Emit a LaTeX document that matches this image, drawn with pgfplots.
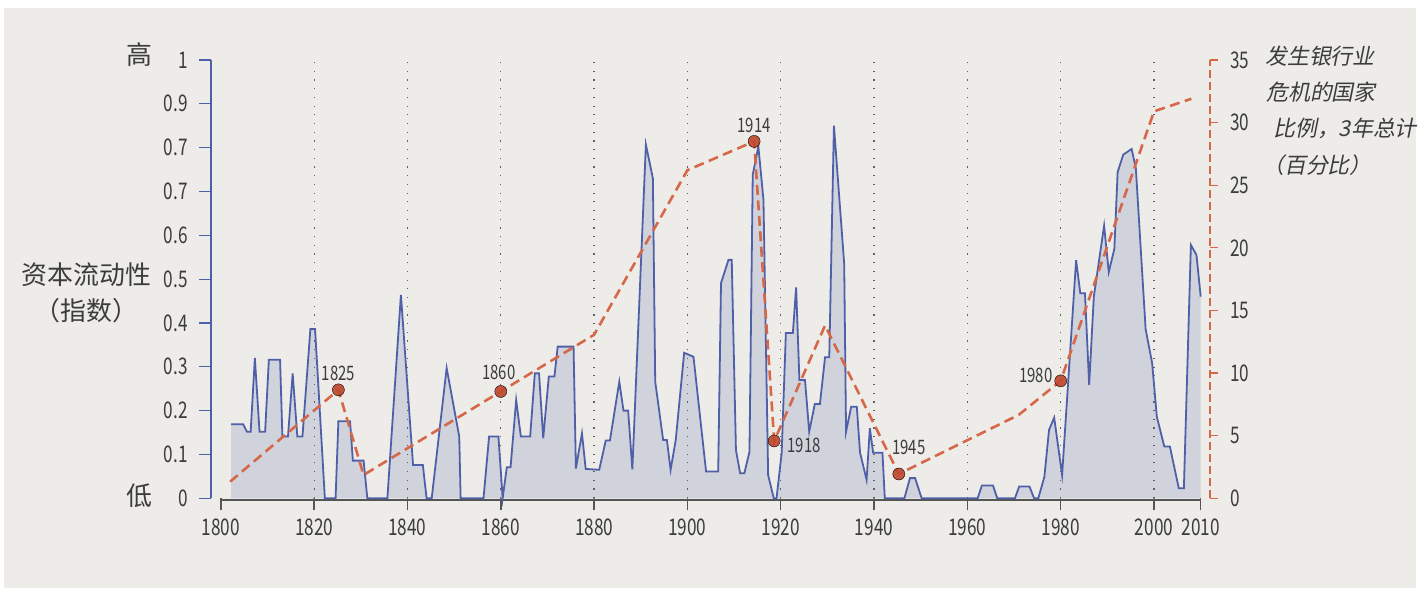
\documentclass[border=0pt]{standalone}
\usepackage{pgfplots}
\pgfplotsset{compat=1.18}
\usepackage{fontspec}
\setmainfont{Noto Sans CJK SC}
\newfontfamily\numfont{Noto Sans CJK SC}[FakeStretch=0.75]
\newfontfamily\cjkit{Noto Sans CJK SC}[FakeSlant=0.2]
\definecolor{panelbg}{HTML}{EDECE8}
\definecolor{liqfill}{HTML}{D0D3DB}
\definecolor{liq}{HTML}{5060A8}
\definecolor{crisis}{HTML}{D6684A}
\definecolor{mk}{HTML}{C04830}
\definecolor{txt}{HTML}{3C3C3C}
\definecolor{axgray}{HTML}{555555}
\definecolor{gridc}{HTML}{606060}

\pgfplotstableread{
year val
1802.2 0.169
1804.8 0.169
1805.6 0.152
1806.4 0.152
1807.3 0.320
1808.3 0.152
1809.5 0.152
1810.3 0.316
1812.7 0.316
1813.2 0.141
1814.4 0.141
1815.4 0.285
1816.4 0.141
1817.5 0.141
1819.2 0.386
1820.2 0.386
1822.3 0
1824.6 0
1825.2 0.176
1827.7 0.176
1828.3 0.086
1830.6 0.086
1831.4 0
1835.7 0
1838.6 0.464
1841.2 0.076
1843.3 0.076
1844.1 0
1845.2 0
1848.4 0.297
1851.1 0.141
1851.4 0
1856.3 0
1857.5 0.141
1859.5 0.141
1860.4 0
1861.3 0.071
1862.1 0.071
1863.3 0.224
1864.3 0.141
1866.3 0.141
1867.3 0.285
1868.2 0.285
1869.1 0.137
1870.3 0.278
1871.5 0.278
1872.2 0.346
1875.6 0.346
1876.1 0.068
1877.4 0.148
1878.2 0.067
1881.1 0.065
1882.5 0.132
1883.4 0.132
1885.4 0.266
1886.3 0.200
1887.3 0.200
1888.2 0.066
1891.1 0.807
1892.6 0.730
1893.1 0.266
1894.8 0.133
1895.6 0.133
1896.4 0.065
1897.5 0.133
1899.3 0.332
1901.3 0.323
1904.0 0.061
1906.6 0.061
1907.2 0.491
1908.8 0.544
1909.5 0.544
1910.4 0.110
1911.3 0.057
1912.2 0.057
1913.3 0.106
1914.0 0.738
1915.2 0.803
1916.3 0.681
1917.3 0.053
1918.5 0
1919.1 0
1920.2 0.103
1921.1 0.377
1922.6 0.377
1923.3 0.481
1924.0 0.270
1925.2 0.270
1926.1 0.152
1927.3 0.215
1928.4 0.215
1929.5 0.322
1930.4 0.322
1931.4 0.850
1933.6 0.535
1934.0 0.152
1935.1 0.209
1936.3 0.209
1937.0 0.104
1938.4 0.042
1939.1 0.160
1939.8 0.104
1941.8 0.104
1942.3 0
1946.5 0
1947.7 0.046
1948.8 0.046
1950.2 0
1962.2 0
1963.1 0.029
1965.5 0.029
1966.4 0
1970.2 0
1971.1 0.027
1973.3 0.027
1974.3 0
1975.2 0
1976.5 0.049
1977.5 0.156
1978.6 0.184
1980.3 0.053
1983.3 0.543
1984.2 0.468
1985.2 0.468
1986.1 0.259
1987.1 0.460
1989.3 0.622
1990.3 0.516
1991.5 0.569
1992.2 0.744
1993.4 0.784
1995.2 0.797
1996.1 0.753
1998.2 0.386
1999.6 0.308
2000.6 0.186
2002.2 0.118
2003.4 0.118
2005.3 0.023
2006.4 0.023
2007.9 0.578
2009.1 0.555
2010.0 0.460
}\liqtable

\pgfplotstableread{
year pct
1802.0 1.33
1825.2 8.66
1830.6 1.86
1860.0 8.53
1880.0 13.06
1900.0 26.2
1914.3 28.5
1918.6 4.58
1929.5 13.8
1945.3 1.94
1971.0 6.66
1980.0 9.38
2000.0 30.9
2008.0 31.9
}\crisistable

\pgfplotstableread{
year pct
1825.2 8.66
1860.0 8.53
1914.3 28.5
1918.6 4.58
1945.3 1.94
1980.0 9.38
}\marktable

\begin{document}
\begin{tikzpicture}[x=1bp,y=1bp]
\fill[white] (0,0) rectangle (1419,590);
\fill[panelbg] (4,2) rectangle (1416,582);

% left labels
\node[font={\fontsize{26}{26}\selectfont}, text=txt] at (86.7,315) {资本流动性};
\node[font={\fontsize{26}{26}\selectfont}, text=txt] at (86.7,279.5) {（指数）};
\node[font={\fontsize{26}{26}\selectfont}, text=txt] at (139.5,535) {高};
\node[font={\fontsize{26}{26}\selectfont}, text=txt] at (139.5,94.5) {低};

% right title
\node[anchor=west, inner sep=0pt, font={\cjkit\fontsize{22}{22}\selectfont}, text=txt] at (1265,534) {发生银行业};
\node[anchor=west, inner sep=0pt, font={\cjkit\fontsize{22}{22}\selectfont}, text=txt] at (1266,498.3) {危机的国家};
\node[anchor=west, inner sep=0pt, font={\cjkit\fontsize{22}{22}\selectfont}, text=txt] at (1273,462) {比例，3年总计};
\node[anchor=west, inner sep=0pt, font={\cjkit\fontsize{22}{22}\selectfont}, text=txt] at (1262,425) {（百分比）};

\begin{axis}[
  at={(211bp,91.7bp)}, anchor=south west, scale only axis,
  width=999bp, height=438.3bp,
  xmin=1797.9, xmax=2012, ymin=0, ymax=1,
  axis x line*=bottom, axis y line*=left,
  x axis line style={draw=none},
  y axis line style={draw=liq, line width=1.5bp, -},
  tick align=outside,
  major tick length=12bp,
  xtick={1800,1820,1840,1860,1880,1900,1920,1940,1960,1980,2000,2010},
  xticklabels={1800,1820,1840,1860,1880,1900,1920,1940,1960,1980,2000,2010},
  ytick={0,0.1,0.2,0.3,0.4,0.5,0.6,0.7,0.8,0.9,1},
  yticklabels={0,0.1,0.2,0.3,0.4,0.5,0.6,0.7,0.7,0.9,1},
  xtick style={draw=axgray, line width=1.5bp},
  ytick style={draw=liq, line width=1.2bp},
  /pgf/number format/assume math mode=true,
  xticklabel style={font={\numfont\fontsize{23}{23}\selectfont}, text=txt, inner sep=0pt, anchor=north, yshift=-8bp},
  yticklabel style={font={\numfont\fontsize{23}{23}\selectfont}, text=txt, inner sep=0pt, anchor=east, xshift=-11bp},
  clip=false,
]
\addplot[draw=none, fill=liqfill] table[x=year, y=val] {\liqtable} \closedcycle;
\pgfplotsinvokeforeach{1820,1840,1860,1880,1900,1920,1940,1960,1980,2000}{
  \draw[gridc, line width=1.2bp, dash pattern=on 1.2bp off 7.5bp] (axis cs:#1,0) -- (axis cs:#1,0.995);
}
\draw[axgray, line width=2.2bp] ([yshift=-1.6bp]axis cs:1800,0) -- ([yshift=-1.6bp]axis cs:2010,0);
\addplot[liq, line width=1.8bp, mark=none] table[x=year, y=val] {\liqtable};
\end{axis}

\begin{axis}[
  at={(211bp,91.7bp)}, anchor=south west, scale only axis,
  width=999bp, height=438.3bp,
  xmin=1797.9, xmax=2012, ymin=0, ymax=35,
  axis y line*=right, axis x line=none,
  y axis line style={draw=crisis, line width=1.3bp, dash pattern=on 8bp off 4bp, -},
  tick align=outside,
  major tick length=8bp,
  ytick={0,5,10,15,20,25,30,35},
  yticklabels={0,5,10,15,20,25,30,35},
  ytick style={draw=crisis, line width=1.3bp, solid},
  /pgf/number format/assume math mode=true,
  yticklabel style={font={\numfont\fontsize{23}{23}\selectfont}, text=txt, inner sep=0pt, anchor=west, xshift=12bp},
  clip=false,
]
\addplot[crisis, line width=2.6bp, dash pattern=on 10bp off 5.5bp, mark=none] table[x=year, y=pct] {\crisistable};
\addplot[only marks, mark=*, mark size=6bp, mark options={fill=mk, draw=none, fill opacity=0.92}] table[x=year, y=pct] {\marktable};
\node[font={\numfont\fontsize{20}{20}\selectfont}, text=txt, yshift=16.5bp] at (axis cs:1825.2,8.66) {1825};
\node[font={\numfont\fontsize{20}{20}\selectfont}, text=txt, yshift=19bp, xshift=-2bp] at (axis cs:1860,8.53) {1860};
\node[font={\numfont\fontsize{20}{20}\selectfont}, text=txt, yshift=16bp] at (axis cs:1914.3,28.5) {1914};
\node[font={\numfont\fontsize{20}{20}\selectfont}, text=txt, xshift=30bp, yshift=-4.5bp] at (axis cs:1918.6,4.58) {1918};
\node[font={\numfont\fontsize{20}{20}\selectfont}, text=txt, xshift=10bp, yshift=26.5bp] at (axis cs:1945.3,1.94) {1945};
\node[font={\numfont\fontsize{20}{20}\selectfont}, text=txt, xshift=-25bp, yshift=5.5bp] at (axis cs:1980,9.38) {1980};
\end{axis}
\end{tikzpicture}
\end{document}
